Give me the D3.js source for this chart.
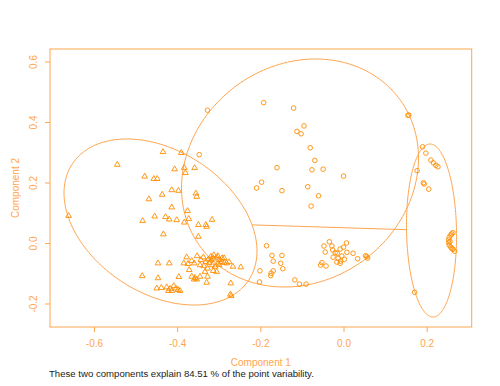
<!DOCTYPE html>
<html>
<head>
<meta charset="utf-8">
<script src="https://cdn.jsdelivr.net/npm/d3@7"></script>
<style>
  body { margin: 0; background: #fff; }
  text { font-family: "Liberation Sans", Arial, sans-serif; }
</style>
</head>
<body>
<svg id="chart" width="500" height="386"></svg>
<script>
'use strict';

// tick labels
const xTicks = [-0.6, -0.4, -0.2, 0.0, 0.2];
const yTicks = [-0.2, 0.0, 0.2, 0.4, 0.6];

// cluster 1 (triangles)
const cluster1 = [
  [-0.544,0.259],[-0.434,0.301],[-0.390,0.298],[-0.478,0.220],[-0.456,0.212],[-0.448,0.212],
  [-0.406,0.244],[-0.383,0.249],[-0.380,0.232],[-0.358,0.248],[-0.436,0.160],[-0.413,0.175],
  [-0.397,0.173],[-0.355,0.164],[-0.353,0.153],[-0.468,0.145],[-0.413,0.118],[-0.375,0.106],
  [-0.661,0.090],[-0.483,0.073],[-0.454,0.088],[-0.428,0.086],[-0.419,0.078],[-0.401,0.076],
  [-0.383,0.068],[-0.372,0.080],[-0.349,0.060],[-0.331,0.060],[-0.329,0.054],[-0.316,0.077],
  [-0.433,0.029],[-0.349,0.021],[-0.446,-0.067],[-0.419,-0.067],[-0.384,-0.067],[-0.484,-0.109],
  [-0.446,-0.116],[-0.396,-0.112],[-0.449,-0.150],[-0.438,-0.148],[-0.425,-0.146],[-0.417,-0.151],
  [-0.408,-0.142],[-0.403,-0.150],[-0.393,-0.158],[-0.398,-0.155],[-0.421,-0.158],[-0.413,-0.158],
  [-0.271,-0.133],[-0.272,-0.170],[-0.270,-0.175],[-0.247,-0.080],[-0.266,-0.078],
  [-0.377,-0.047],[-0.365,-0.059],[-0.352,-0.043],[-0.359,-0.067],[-0.345,-0.073],[-0.337,-0.047],
  [-0.331,-0.062],[-0.325,-0.054],[-0.319,-0.045],[-0.313,-0.051],[-0.305,-0.047],[-0.299,-0.056],
  [-0.293,-0.062],[-0.287,-0.065],[-0.281,-0.067],[-0.301,-0.067],[-0.309,-0.078],[-0.313,-0.092],
  [-0.305,-0.095],[-0.327,-0.084],[-0.333,-0.095],[-0.371,-0.089],[-0.345,-0.111],[-0.353,-0.120],
  [-0.359,-0.120],[-0.327,-0.111],[-0.329,-0.131],[-0.365,-0.111],[-0.357,-0.115],
  [-0.318,-0.056],[-0.312,-0.040],[-0.302,-0.043],[-0.292,-0.050],[-0.323,-0.066],[-0.336,-0.076],
  [-0.316,-0.073],[-0.299,-0.073],[-0.343,-0.056],[-0.374,-0.069],[-0.287,-0.050],[-0.275,-0.063]
];

// cluster 2 (circles)
const cluster2 = [
  [-0.192,0.464],[-0.120,0.446],[-0.095,0.387],[-0.112,0.369],[-0.102,0.361],[-0.080,0.315],
  [-0.069,0.273],[-0.160,0.249],[-0.076,0.242],[-0.049,0.244],[0.000,0.221],[-0.197,0.201],
  [-0.209,0.182],[-0.148,0.173],[-0.086,0.186],[-0.060,0.156],[-0.078,0.122],[-0.327,0.439],
  [-0.347,0.292],[0.155,0.422],[0.157,0.423],
  [-0.185,-0.009],[-0.172,-0.041],[-0.148,-0.041],[-0.169,-0.060],[-0.151,-0.067],[-0.146,-0.085],
  [-0.201,-0.092],[-0.169,-0.092],[-0.174,-0.100],[-0.175,-0.108],[-0.202,-0.129],[-0.117,-0.122],
  [-0.106,-0.136],[-0.090,-0.136],[-0.034,0.004],[-0.047,-0.010],[-0.028,-0.010],[0.007,0.000],
  [0.000,-0.014],[-0.008,-0.020],[-0.044,-0.030],[-0.026,-0.023],[-0.020,-0.032],[-0.015,-0.034],
  [0.008,-0.031],[0.023,-0.034],[-0.004,-0.043],[-0.025,-0.047],[-0.013,-0.051],[0.002,-0.054],
  [-0.007,-0.060],[-0.016,-0.063],[-0.008,-0.067],[0.034,-0.052],[-0.052,-0.065],[-0.055,-0.073],
  [-0.042,-0.076],[0.053,-0.042],[0.056,-0.045],[0.058,-0.050]
];

// cluster 3 (circles)
const cluster3 = [
  [0.190,0.318],[0.198,0.297],[0.210,0.274],[0.216,0.265],[0.222,0.257],[0.227,0.252],
  [0.177,0.239],[0.192,0.199],[0.194,0.195],[0.205,0.178],
  [0.263,0.034],[0.258,0.026],[0.254,0.019],[0.253,0.010],[0.253,0.001],[0.254,-0.007],
  [0.258,-0.014],[0.263,-0.021],[0.267,-0.027],[0.260,0.030],[0.256,0.005],[0.261,-0.018],
  [0.171,-0.163]
];

// cluster ellipses: centre and the two conjugate semi-axis vectors
const ellipseCenters = [[-0.440, 0.0694], [-0.1046, 0.2314], [0.2116, 0.0413]];
const ellipseAxes = [
  [[0.2320, -0.0959], [0.0, 0.2572]],
  [[0.2849, 0.0496], [0.0, 0.3736]],
  [[0.0601, 0.0], [0.0036, -0.2860]]
];
const linkedPairs = [[0, 2]];

const subtitle = 'These two components explain 84.51 % of the point variability.';

const lineCol = '#FFA54F';
const pointCol = '#FF8C00';

const svg = d3.select('#chart');
const margin = {top: 49, right: 28.3, bottom: 59, left: 50};
const W = 500, H = 386;

const x = d3.scaleLinear().domain([-0.7057, 0.3082]).range([margin.left, W - margin.right]);
const y = d3.scaleLinear().domain([-0.2777, 0.6413]).range([H - margin.bottom, margin.top]);

// ellipses
const ts = d3.range(0, 361, 2).map(a => a * Math.PI / 180);
const ell = svg.append('g').attr('fill', 'none').attr('stroke', lineCol).attr('stroke-width', 1);
ellipseCenters.forEach((c, i) => {
  const [u, v] = ellipseAxes[i];
  const pts = ts.map(t => [c[0] + u[0]*Math.cos(t) + v[0]*Math.sin(t),
                           c[1] + u[1]*Math.cos(t) + v[1]*Math.sin(t)]);
  ell.append('path')
    .attr('d', d3.line().x(d => x(d[0])).y(d => y(d[1]))(pts));
});

// segment between boundaries of separated ellipses along the line of centres
function edgePoint(i, dir){
  const [u, v] = ellipseAxes[i];
  const det = u[0]*v[1] - v[0]*u[1];
  const a = ( v[1]*dir[0] - v[0]*dir[1]) / det;
  const b = (-u[1]*dir[0] + u[0]*dir[1]) / det;
  const s = 1 / Math.sqrt(a*a + b*b);
  return [ellipseCenters[i][0] + s*dir[0], ellipseCenters[i][1] + s*dir[1]];
}
linkedPairs.forEach(([i, j]) => {
  const ci = ellipseCenters[i], cj = ellipseCenters[j];
  const d = [cj[0]-ci[0], cj[1]-ci[1]];
  const p1 = edgePoint(i, d), p2 = edgePoint(j, [-d[0], -d[1]]);
  ell.append('line')
    .attr('x1', x(p1[0])).attr('y1', y(p1[1]))
    .attr('x2', x(p2[0])).attr('y2', y(p2[1]));
});

// points
const pts = svg.append('g').attr('fill', 'none').attr('stroke', pointCol).attr('stroke-width', 0.9);
pts.selectAll('path.tri')
  .data(cluster1)
  .join('path')
    .attr('class', 'tri')
    .attr('d', d3.symbol(d3.symbolTriangle, 14))
    .attr('transform', d => 'translate(' + x(d[0]) + ',' + y(d[1]) + ')');
pts.selectAll('circle')
  .data(cluster2.concat(cluster3))
  .join('circle')
    .attr('cx', d => x(d[0]))
    .attr('cy', d => y(d[1]))
    .attr('r', 2.3);

// box
svg.append('rect')
  .attr('x', margin.left).attr('y', margin.top)
  .attr('width', W - margin.left - margin.right)
  .attr('height', H - margin.top - margin.bottom)
  .attr('fill', 'none').attr('stroke', lineCol);

// axes
const fmt = d => d.toFixed(1);
const gx = svg.append('g')
  .attr('transform', 'translate(0,' + (H - margin.bottom) + ')')
  .call(d3.axisBottom(x).tickValues(xTicks).tickSize(5).tickPadding(8).tickFormat(fmt));
const gy = svg.append('g')
  .attr('transform', 'translate(' + margin.left + ',0)')
  .call(d3.axisLeft(y).tickValues(yTicks).tickSize(5).tickFormat(fmt));
[gx, gy].forEach(g => {
  g.select('.domain').remove();
  g.selectAll('.tick line').attr('stroke', lineCol);
  g.selectAll('.tick text').attr('fill', lineCol).style('font-size', '10px')
    .style('font-family', '"Liberation Sans", Arial, sans-serif');
});
gy.selectAll('.tick text')
  .attr('transform', 'rotate(-90)')
  .attr('x', 0).attr('y', -17).attr('dy', '0.35em')
  .attr('text-anchor', 'middle');

svg.append('text')
  .attr('x', (margin.left + W - margin.right) / 2).attr('y', 366)
  .attr('text-anchor', 'middle').attr('fill', lineCol).style('font-size', '10px')
  .text('Component 1');
svg.append('text')
  .attr('transform', 'translate(19,' + (margin.top + H - margin.bottom) / 2 + ') rotate(-90)')
  .attr('text-anchor', 'middle').attr('fill', lineCol).style('font-size', '10px')
  .text('Component 2');
svg.append('text')
  .attr('x', 49).attr('y', 377)
  .attr('fill', '#222').style('font-size', '9.6px')
  .text(subtitle);
</script>
</body>
</html>
